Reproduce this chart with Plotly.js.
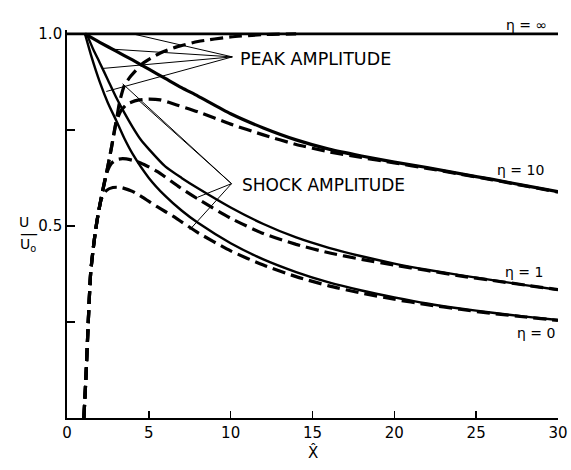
<!DOCTYPE html>
<html>
<head>
<meta charset="utf-8">
<script src="https://cdn.plot.ly/plotly-3.0.1.min.js"></script>
<style>
html,body{margin:0;padding:0;background:#fff;}
#chart{width:571px;height:470px;}
</style>
</head>
<body>
<div id="chart"></div>
<script>
// ---- data ----
const xTickVals = [0, 5, 10, 15, 20, 25, 30];
const yTickVals = [0.5, 1.0];
const yTickText = ['0.5', '1.0'];
const yMinorTickVals = [0.25, 0.75];

// peak amplitude (solid)
const peakInfX = [0, 30];
const peakInfY = [1, 1];
const peak10X = [1.1, 2, 3, 4, 5, 6, 7, 8, 10, 12, 14, 16, 18, 20, 22, 24, 26, 28, 30];
const peak10Y = [1.0, 0.978, 0.955, 0.932, 0.908, 0.884, 0.86, 0.838, 0.792, 0.755, 0.724, 0.70, 0.682, 0.666, 0.652, 0.636, 0.621, 0.605, 0.589];
const peak1X = [1.2, 1.6, 2, 2.5, 3, 3.5, 4, 4.5, 5, 6, 7, 8, 10, 12, 14, 16, 18, 20, 22, 24, 26, 28, 30];
const peak1Y = [1.0, 0.96, 0.925, 0.88, 0.835, 0.795, 0.758, 0.725, 0.70, 0.655, 0.625, 0.598, 0.548, 0.505, 0.47, 0.443, 0.421, 0.402, 0.386, 0.372, 0.359, 0.346, 0.334];
const peak0X = [1.1, 1.5, 2, 2.5, 3, 3.5, 4, 5, 6, 7, 8, 10, 12, 14, 16, 18, 20, 22, 24, 26, 28, 30];
const peak0Y = [1.0, 0.94, 0.875, 0.82, 0.775, 0.728, 0.688, 0.625, 0.578, 0.54, 0.508, 0.455, 0.413, 0.38, 0.353, 0.332, 0.314, 0.298, 0.285, 0.274, 0.264, 0.255];

// shock amplitude (dashed)
const shockInfX = [1.03, 1.15, 1.25, 1.35, 1.45, 1.6, 1.75, 1.9, 2.1, 2.4, 2.7, 3.0, 3.2, 3.5, 3.9, 4.6, 5.7, 6.7, 8, 10, 12, 14];
const shockInfY = [0, 0.1, 0.2, 0.3, 0.38, 0.44, 0.49, 0.53, 0.575, 0.635, 0.70, 0.77, 0.82, 0.865, 0.89, 0.922, 0.95, 0.966, 0.98, 0.992, 0.998, 1.0];
const shock10X = [1.03, 1.15, 1.25, 1.35, 1.45, 1.6, 1.75, 1.9, 2.1, 2.4, 2.7, 3.0, 3.3, 3.7, 4.4, 5.0, 5.7, 6.7, 8, 10, 12, 14, 16, 18, 20, 22, 24, 26, 28, 30];
const shock10Y = [0, 0.1, 0.2, 0.3, 0.38, 0.44, 0.49, 0.53, 0.575, 0.635, 0.70, 0.77, 0.80, 0.818, 0.828, 0.83, 0.828, 0.815, 0.797, 0.765, 0.737, 0.712, 0.693, 0.678, 0.664, 0.650, 0.635, 0.620, 0.604, 0.588];
const shock1X = [1.03, 1.15, 1.25, 1.35, 1.45, 1.6, 1.75, 1.9, 2.1, 2.4, 2.7, 3.0, 3.4, 4.0, 4.5, 5.5, 6.9, 8, 10, 12, 14, 16, 18, 20, 22, 24, 26, 28, 30];
const shock1Y = [0, 0.1, 0.2, 0.3, 0.38, 0.44, 0.49, 0.53, 0.575, 0.635, 0.662, 0.672, 0.675, 0.671, 0.664, 0.642, 0.60, 0.57, 0.52, 0.48, 0.452, 0.43, 0.413, 0.398, 0.384, 0.37, 0.358, 0.346, 0.334];
const shock0X = [1.03, 1.15, 1.25, 1.35, 1.45, 1.6, 1.75, 1.9, 2.1, 2.4, 2.8, 3.3, 4.0, 4.6, 5.5, 6.5, 7.9, 10, 12, 14, 16, 18, 20, 22, 24, 26, 28, 30];
const shock0Y = [0, 0.1, 0.2, 0.3, 0.38, 0.44, 0.49, 0.53, 0.57, 0.592, 0.60, 0.60, 0.59, 0.575, 0.55, 0.525, 0.485, 0.435, 0.398, 0.368, 0.344, 0.325, 0.309, 0.295, 0.283, 0.272, 0.263, 0.254];

// labels and leader lines
const etaLabels = ['η = ∞', 'η = 10', 'η = 1', 'η = 0'];
const etaLabelX = [28.1, 27.7, 27.9, 28.65];
const etaLabelY = [1.05, 0.646, 0.38, 0.221];
const peakText = 'PEAK AMPLITUDE';
const peakApex = [10.1, 0.94];
const peakTargetsX = [4.0, 2.8, 2.2, 2.4];
const peakTargetsY = [1.0, 0.96, 0.91, 0.85];
const shockText = 'SHOCK AMPLITUDE';
const shockApex = [10.05, 0.61];
const shockTargetsX = [3.4, 4.4, 8.0, 7.5];
const shockTargetsY = [0.87, 0.826, 0.575, 0.49];

// ---- build ----
const FONT = 'DejaVu Sans, Liberation Sans, sans-serif';
const Y_MAX = 1.01;
function solid(x, y, w) {
  return {x: x, y: y, type: 'scatter', mode: 'lines', hoverinfo: 'skip',
    line: {color: '#000', width: w, shape: 'spline', smoothing: 0.6}};
}
function dashed(x, y, w) {
  return {x: x, y: y, type: 'scatter', mode: 'lines', hoverinfo: 'skip',
    line: {color: '#000', width: w, dash: '13px,6px', shape: 'spline', smoothing: 0.6}};
}
const traces = [
  solid(peakInfX, peakInfY, 2.6),
  solid(peak10X, peak10Y, 3.2),
  solid(peak1X, peak1Y, 2.4),
  solid(peak0X, peak0Y, 2.4),
  dashed(shockInfX, shockInfY, 3.2),
  dashed(shock10X, shock10Y, 3.2),
  dashed(shock1X, shock1Y, 3.2),
  dashed(shock0X, shock0Y, 3.2)
];

const shapes = [];
peakTargetsX.forEach((tx, i) => {
  shapes.push({type: 'line', xref: 'x', yref: 'y', x0: peakApex[0], y0: peakApex[1],
    x1: tx, y1: peakTargetsY[i], line: {color: '#000', width: 1}});
});
shockTargetsX.forEach((tx, i) => {
  shapes.push({type: 'line', xref: 'x', yref: 'y', x0: shockApex[0], y0: shockApex[1],
    x1: tx, y1: shockTargetsY[i], line: {color: '#000', width: 1}});
});

const annotations = [];
etaLabels.forEach((t, i) => {
  const inside = etaLabelY[i] <= Y_MAX;
  annotations.push({text: t, x: etaLabelX[i], xref: 'x',
    y: inside ? etaLabelY[i] : 1 + (etaLabelY[i] - Y_MAX) / Y_MAX, yref: inside ? 'y' : 'paper',
    showarrow: false, font: {family: FONT, size: 14, color: '#000'}});
});
annotations.push({text: peakText, x: peakApex[0] + 0.35, y: peakApex[1] - 0.005, xref: 'x', yref: 'y',
  xanchor: 'left', showarrow: false, font: {family: FONT, size: 17.5, color: '#000'}});
annotations.push({text: shockText, x: shockApex[0] + 0.5, y: shockApex[1] - 0.003, xref: 'x', yref: 'y',
  xanchor: 'left', showarrow: false, font: {family: FONT, size: 17, color: '#000'}});
// y-axis title U / U0 as a stacked fraction
annotations.push({text: 'U', x: -0.102, y: 0.505, xref: 'paper', yref: 'paper', showarrow: false,
  font: {family: FONT, size: 14, color: '#000'}});
annotations.push({text: '\u2014', x: -0.1, y: 0.478, xref: 'paper', yref: 'paper', showarrow: false,
  font: {family: FONT, size: 18, color: '#000'}});
annotations.push({text: 'U<sub>o</sub>', x: -0.1, y: 0.446, xref: 'paper', yref: 'paper', showarrow: false,
  font: {family: FONT, size: 14, color: '#000'}});
annotations.push({text: 'X\u0302', x: 0.5, y: -0.118, xref: 'paper', yref: 'paper', showarrow: false,
  font: {family: FONT, size: 15, color: '#000'}});

const layout = {
  width: 571, height: 470,
  margin: {l: 67, r: 13, t: 30, b: 52},
  paper_bgcolor: '#fff', plot_bgcolor: '#fff',
  showlegend: false,
  font: {family: FONT, color: '#000'},
  xaxis: {range: [0, 30], tickvals: xTickVals, ticktext: xTickVals.map(String),
    showgrid: false, zeroline: false, showline: true, linecolor: '#000', linewidth: 1.8,
    ticks: 'inside', ticklen: 7, tickwidth: 1.5, tickcolor: '#000',
    tickfont: {family: FONT, size: 15, color: '#000'}, fixedrange: true},
  yaxis: {range: [0, Y_MAX], tickvals: yTickVals, ticktext: yTickText,
    showgrid: false, zeroline: false, showline: true, linecolor: '#000', linewidth: 1.8,
    ticks: 'inside', ticklen: 8, tickwidth: 1.5, tickcolor: '#000',
    minor: {tickmode: 'array', tickvals: yMinorTickVals, ticks: 'inside', ticklen: 8,
      tickwidth: 1.5, tickcolor: '#000', showgrid: false},
    tickfont: {family: FONT, size: 15, color: '#000'}, fixedrange: true},
  shapes: shapes,
  annotations: annotations
};

Plotly.newPlot('chart', traces, layout, {displayModeBar: false, staticPlot: true});
</script>
</body>
</html>
